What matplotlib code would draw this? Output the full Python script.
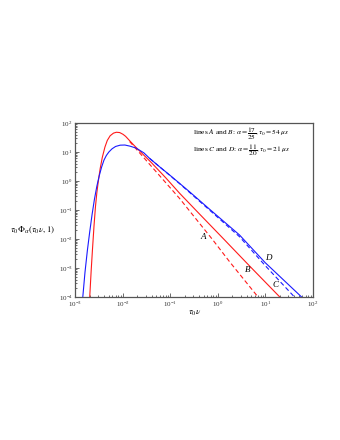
import numpy as np
import matplotlib
matplotlib.use("Agg")
import matplotlib.pyplot as plt

plt.rcParams["font.family"] = ["Liberation Serif", "DejaVu Serif"]
plt.rcParams["mathtext.fontset"] = "stix"

# values (log10 of tau0*nu, log10 of tau0*Phi)
B_logx = [-2.70, -2.67, -2.643, -2.61, -2.579, -2.55, -2.522, -2.48, -2.436,
          -2.38, -2.33, -2.27, -2.20, -2.14, -2.07, -2.00, -1.945, -1.86, -1.75,
          -1.615, -1.40, -1.10, -0.81, -0.40, 0.137, 0.242, 0.70, 1.295]
B_logy = [-4.0, -3.1, -2.38, -1.55, -0.88, -0.40, -0.04, 0.43, 0.81,
          1.17, 1.40, 1.56, 1.65, 1.68, 1.67, 1.61, 1.54, 1.39, 1.20,
          0.98, 0.63, 0.11, -0.42, -1.12, -2.03, -2.21, -2.99, -3.99]

A_logx = [-1.86, -0.81, -0.11, 0.242, 0.838]
A_logy = [1.36, -0.60, -2.03, -2.78, -3.99]

D_logx = [-2.846, -2.80, -2.75, -2.70, -2.65, -2.60, -2.55, -2.50, -2.45, -2.40,
          -2.35, -2.297, -2.23, -2.156, -2.06, -1.96, -1.85, -1.735, -1.65, -1.56,
          -1.44, -1.23, -1.02, -0.81, -0.60, -0.18, 0.452, 0.99, 1.76]
D_logy = [-4.0, -3.15, -2.40, -1.75, -1.15, -0.62, -0.18, 0.18, 0.48, 0.72,
          0.88, 1.00, 1.11, 1.19, 1.235, 1.24, 1.20, 1.14, 1.06, 0.97,
          0.78, 0.49, 0.21, -0.08, -0.37, -0.97, -1.86, -2.81, -4.0]

C_logx = [-1.44, -0.81, -0.18, 0.452, 0.99, 1.61]
C_logy = [0.78, -0.09, -1.00, -1.92, -2.91, -4.0]

labels = ["A", "B", "C", "D"]
label_logx = [-0.316, 0.632, 1.221, 1.053]
label_logy = [-1.93, -3.07, -3.59, -2.66]

red = "#ff1a1a"
blue = "#1a1aff"

fig = plt.figure(figsize=(3.4, 4.4), dpi=100)
ax = fig.add_axes([0.222, 0.325, 0.6986, 0.3955])

p = lambda v: 10 ** np.asarray(v)
ax.plot(p(B_logx), p(B_logy), color=red, lw=0.8)
ax.plot(p(A_logx), p(A_logy), color=red, lw=0.8, ls=(0, (4, 2.5)))
ax.plot(p(D_logx), p(D_logy), color=blue, lw=0.8)
ax.plot(p(C_logx), p(C_logy), color=blue, lw=0.8, ls=(0, (4, 2.5)))

ax.set_xscale("log")
ax.set_yscale("log")
ax.set_xlim(1e-3, 1e2)
ax.set_ylim(1e-4, 1e2)

for s in ax.spines.values():
    s.set_color("#555555")
    s.set_linewidth(0.9)
ax.tick_params(which="both", direction="in", labelsize=5, width=0.5,
               colors="#333333", pad=2)
ax.tick_params(which="major", length=3)
ax.tick_params(which="minor", length=1.5)

for lab, lx, ly in zip(labels, label_logx, label_logy):
    ax.text(10 ** lx, 10 ** ly, lab, fontsize=6.5, style="italic",
            ha="center", va="center")

ax.text(0.495, 0.935, r"lines $A$ and $B$: $\alpha=\dfrac{17}{25}, \tau_0=54\ \mu s$",
        transform=ax.transAxes, fontsize=5.3, va="center", ha="left")
ax.text(0.495, 0.845, r"lines $C$ and $D$: $\alpha=\dfrac{11}{20}, \tau_0=21\ \mu s$",
        transform=ax.transAxes, fontsize=5.3, va="center", ha="left")

fig.text(0.095, 0.477, r"$\tau_0\Phi_\alpha(\tau_0\nu, 1)$", fontsize=6.5,
         ha="center", va="center")
fig.text(0.574, 0.289, r"$\tau_0\nu$", fontsize=6.5, ha="center", va="center")

fig.savefig("out.png", dpi=100)
